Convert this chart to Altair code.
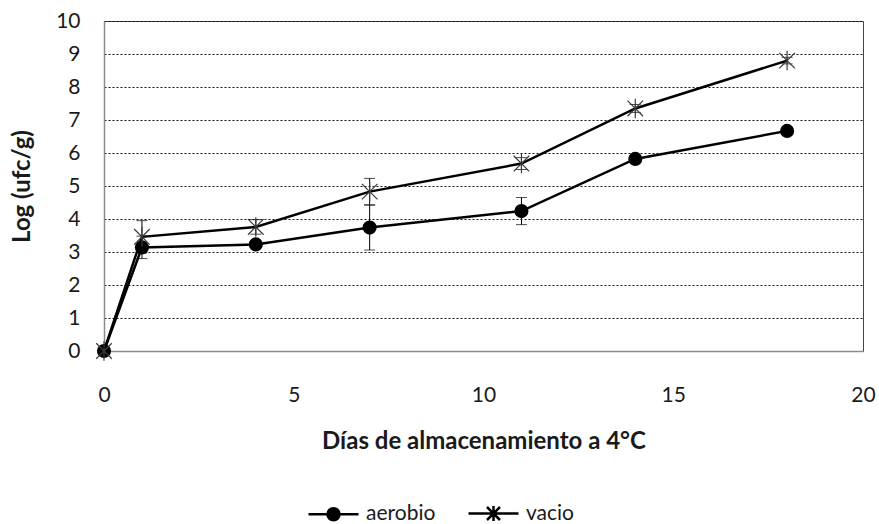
import altair as alt
import pandas as pd

# ---- data ----
dias = [0, 1, 4, 7, 11, 14, 18]
aerobio = [0.0, 3.14, 3.23, 3.74, 4.24, 5.82, 6.67]
aerobio_err = [0.0, 0.34, 0.05, 0.68, 0.41, 0.10, 0.08]
vacio = [0.0, 3.46, 3.76, 4.83, 5.68, 7.35, 8.80]
vacio_err = [0.0, 0.49, 0.22, 0.40, 0.18, 0.12, 0.10]
series = ["aerobio", "vacio"]
x_ticks = [0, 5, 10, 15, 20]
y_ticks = list(range(0, 11))

rows = []
for name, vals, errs in [("aerobio", aerobio, aerobio_err), ("vacio", vacio, vacio_err)]:
    for d, v, e in zip(dias, vals, errs):
        rows.append({"serie": name, "dia": d, "valor": v, "err": e, "lo": v - e, "hi": v + e})
df = pd.DataFrame(rows)

FONT = "Lato"
TXT = "#1a1a1a"

circle_path = "M-1,0L1,0M0.24,0A0.24,0.24,0,1,1,-0.24,0A0.24,0.24,0,1,1,0.24,0Z"
star_legend_path = "M-1,0L1,0M-0.26,-0.26L0.26,0.26M-0.26,0.26L0.26,-0.26M0,-0.3L0,0.3"
star_path = "M-0.8,-0.8L0.8,0.8M-0.8,0.8L0.8,-0.8M0,-1L0,1"

x_axis = alt.Axis(values=x_ticks, title="Días de almacenamiento a 4°C", grid=False, ticks=False,
                  labelFlush=False, labelPadding=33, titlePadding=24,
                  domainColor="#8c8c8c", domainWidth=1.5,
                  labelFont=FONT, labelFontSize=21, labelColor=TXT,
                  titleFont=FONT, titleFontSize=24, titleFontWeight="bold", titleColor=TXT)
y_axis = alt.Axis(values=y_ticks, title="Log (ufc/g)", grid=True, gridColor="#111", gridDash=[2, 2],
                  gridWidth=1, ticks=False, labelPadding=24, titlePadding=21,
                  domainColor="#8c8c8c", domainWidth=1.5,
                  labelFont=FONT, labelFontSize=21, labelColor=TXT,
                  titleFont=FONT, titleFontSize=24, titleFontWeight="bold", titleColor=TXT)

xs = alt.Scale(domain=[0, 20], nice=False, zero=False)
ys = alt.Scale(domain=[0, 10], nice=False)

base = alt.Chart(df)
X = alt.X("dia:Q", scale=xs, axis=x_axis)

err = base.transform_filter("datum.err > 0")
rules = err.mark_rule(color="black", strokeWidth=1).encode(
    x=X, y=alt.Y("lo:Q", scale=ys, axis=y_axis), y2="hi:Q")
caps_lo = err.mark_tick(orient="horizontal", size=11, thickness=1, color="black").encode(
    x=X, y=alt.Y("lo:Q", scale=ys, axis=y_axis))
caps_hi = err.mark_tick(orient="horizontal", size=11, thickness=1, color="black").encode(
    x=X, y=alt.Y("hi:Q", scale=ys, axis=y_axis))

lines = base.mark_line(color="black", strokeWidth=2.5).encode(
    x=X, y=alt.Y("valor:Q", scale=ys, axis=y_axis), detail="serie:N")

pts_a = base.transform_filter("datum.serie == 'aerobio'").mark_point(
    shape="circle", filled=True, color="black", size=200, opacity=1).encode(
    x=X, y=alt.Y("valor:Q", scale=ys, axis=y_axis))
pts_v = base.transform_filter("datum.serie == 'vacio'").mark_point(
    shape=star_path, filled=False, stroke="#3a3a3a", strokeWidth=1.2, size=380, opacity=1).encode(
    x=X, y=alt.Y("valor:Q", scale=ys, axis=y_axis))

leg = alt.Legend(orient="none", legendX=203, legendY=466, direction="horizontal", title=None,
                 symbolSize=2500, symbolStrokeWidth=2.5,
                 labelFont=FONT, labelFontSize=21, labelColor=TXT, labelOffset=6,
                 columnPadding=27, symbolOpacity=1)
legend_layer = base.transform_filter("false").mark_point(strokeWidth=2.5, opacity=1).encode(
    x=X, y=alt.Y("valor:Q", scale=ys, axis=y_axis),
    shape=alt.Shape("serie:N", scale=alt.Scale(domain=series, range=[circle_path, star_legend_path]), legend=leg),
    fill=alt.Fill("serie:N", scale=alt.Scale(domain=series, range=["black", "transparent"]), legend=leg),
    stroke=alt.Stroke("serie:N", scale=alt.Scale(domain=series, range=["black", "black"]), legend=leg),
)

chart = alt.layer(rules, caps_lo, caps_hi, lines, pts_a, pts_v, legend_layer).properties(
    width=759, height=330,
    padding={"left": 104, "top": 21, "right": 16, "bottom": 173},
    autosize=alt.AutoSizeParams(type="none"),
    background="white",
).configure_view(stroke="#444", strokeWidth=1)

chart.save("out.html", embed_options={"renderer": "svg", "actions": False})
